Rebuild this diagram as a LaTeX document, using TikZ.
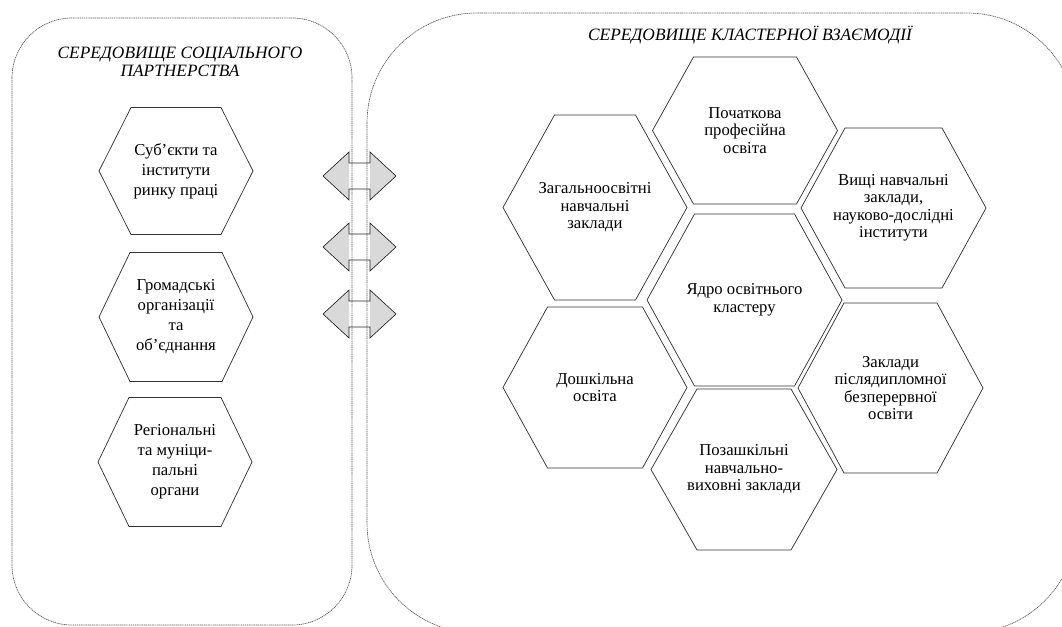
\documentclass[tikz,border=0pt]{standalone}
\usepackage{fontspec}
\setmainfont{Liberation Serif}

\tikzset{
  panel/.style={draw=black!65, line width=0.5pt, dash pattern=on 0.9pt off 0.5pt},
  cellline/.style={draw=black!80, line width=0.55pt},
  celltext/.style={align=center, inner sep=0pt, font=\fontsize{12.5}{13.1}\selectfont},
  partnertext/.style={font=\fontsize{12.5}{15}\selectfont},
  paneltitle/.style={align=center, inner sep=0pt, font=\fontsize{13}{13.5}\selectfont\itshape},
  headfill/.style={fill=black!15},
  arrowline/.style={draw=black!85, line width=0.5pt, line join=miter},
}

% hexagon round a text node: [style]{name}{x}{y}{half width}{half height}{half top}{text}
\newcommand\hexcell[8][]{%
  \node[celltext, #1] (#2) at (#3, #4) {#8};
  \draw[cellline] ([shift={(-#5, 0)}]#2.center) -- ([shift={(-#7, -#6)}]#2.center)
    -- ([shift={(#7, -#6)}]#2.center) -- ([shift={(#5, 0)}]#2.center)
    -- ([shift={(#7, #6)}]#2.center) -- ([shift={(-#7, #6)}]#2.center) -- cycle;
}

% two-way block arrow round a coordinate
\newcommand\twoway[1]{%
  \fill[headfill] (#1) ++(-36.5, 0) -- ++(26, -24) -- ++(0, 48) -- cycle;
  \fill[headfill] (#1) ++(36.5, 0) -- ++(-26, -24) -- ++(0, 48) -- cycle;
  \draw[arrowline] (#1) ++(-36.5, 0) -- ++(26, -24) -- ++(0, 11) -- ++(21, 0) -- ++(0, -11)
    -- ++(26, 24) -- ++(-26, 24) -- ++(0, -11) -- ++(-21, 0) -- ++(0, 11) -- cycle;
}

\begin{document}
\begin{tikzpicture}[x = {(0.75pt, 0pt)}, y = {(0pt, -0.75pt)}]
  \useasboundingbox (0, 0) rectangle (1062, 627);
  \clip (0, 0) rectangle (1062, 627);

  \draw[panel, rounded corners=45pt] (12, 18) rectangle (352, 625);
  \draw[panel, rounded corners=82.5pt] (367, 13) rectangle (1077, 633);

  \node[paneltitle] (partnertitle) at (180, 62) {СЕРЕДОВИЩЕ СОЦІАЛЬНОГО\\ПАРТНЕРСТВА};
  \node[paneltitle] (clustertitle) at (750, 35) {СЕРЕДОВИЩЕ КЛАСТЕРНОЇ ВЗАЄМОДІЇ};

  \coordinate (link1) at (359.5, 176);
  \twoway{link1}

  \coordinate (link2) at (359.5, 247);
  \twoway{link2}

  \coordinate (link3) at (359.5, 314);
  \twoway{link3}

  \hexcell[partnertext]{labour}{176}{171}{77}{63.5}{45}{Суб’єкти та\\інститути\\ринку праці}
  \hexcell[partnertext]{public}{176}{317}{77}{64.5}{46}{Громадські\\організації\\та\\об’єднання}
  \hexcell[partnertext]{region}{175}{462}{77}{64.5}{46}{Регіональні\\та муніци-\\пальні\\органи}

  \hexcell{vocation}{745}{130.5}{92.5}{73.5}{51.5}{Початкова\\професійна\\освіта}
  \hexcell{school}{595}{207.5}{92}{92.5}{40.5}{Загальноосвітні\\навчальні\\заклади}
  \hexcell{higher}{893.5}{208}{92.5}{80}{48.5}{Вищі навчальні\\заклади,\\науково-дослідні\\інститути}
  \hexcell{core}{744.5}{300}{97.5}{86}{50}{Ядро освітнього\\кластеру}
  \hexcell{preschool}{595}{387.5}{92}{80.5}{47.5}{Дошкільна\\освіта}
  \hexcell{postgrad}{890.5}{388}{92.5}{85}{46.5}{Заклади\\післядипломної\\безперервної\\освіти}
  \hexcell{outschool}{744}{469.5}{93}{80.5}{47}{Позашкільні\\навчально-\\виховні заклади}
\end{tikzpicture}
\end{document}
